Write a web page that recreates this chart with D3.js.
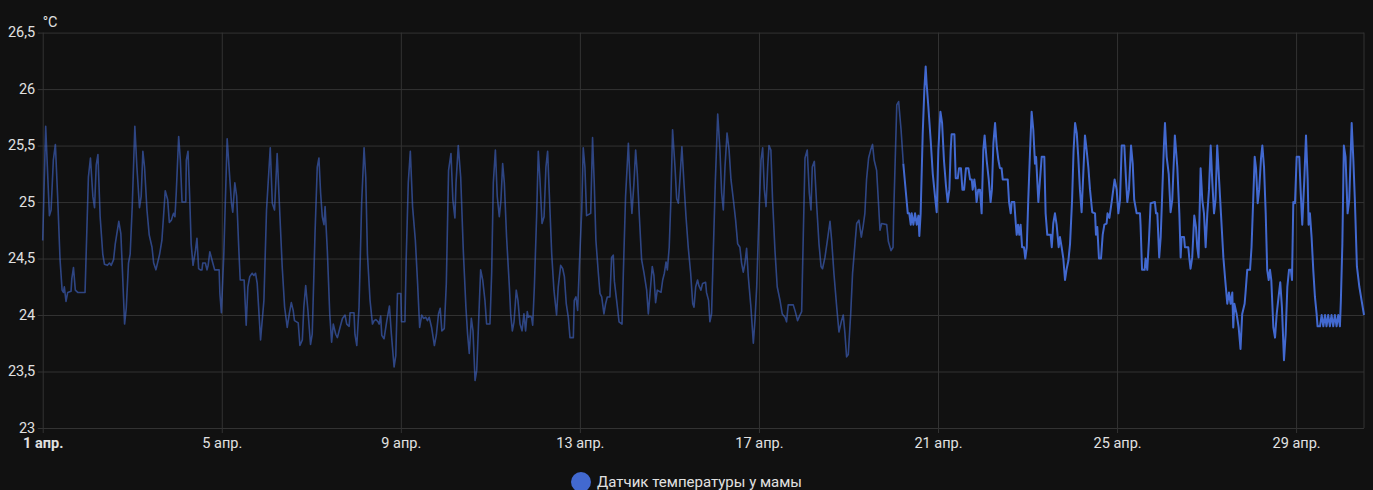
<!DOCTYPE html>
<html><head><meta charset="utf-8">
<script src="https://cdn.jsdelivr.net/npm/d3@7"></script>
<style>
html,body{margin:0;padding:0;background:#111111;}
svg{display:block;font-family:Roboto,"Noto Sans",sans-serif;}
</style></head>
<body><svg id="chart" width="1373" height="490"></svg>
<script>
// ---- data (hours since 1 Apr 00:00, temperature °C) ----
const seriesName = "Датчик температуры у мамы";
const unit = "°C";
const yTicks = [23, 23.5, 24, 24.5, 25, 25.5, 26, 26.5];
const xTickDays = [1, 5, 9, 13, 17, 21, 25, 29];
const xTickLabels = ["1 апр.", "5 апр.", "9 апр.", "13 апр.", "17 апр.", "21 апр.", "25 апр.", "29 апр."];
const endHour = 708.4;

const statHours = [0,1.6,3.6,4.5,5.7,6.8,8,9.3,10.4,11.1,11.6,12.5,13.4,15.2,15.6,16.5,17.5,18.8,22.7,24.5,25.6,26.9,27.8,28.7,29.6,30.8,32.2,33.1,34.7,35.8,36.7,38,38.9,40.8,41.9,42.8,43.9,44.8,46,46.9,48,49.4,50.5,51.9,52.8,53.7,54.6,55.9,57.1,58.6,59.5,60.7,62.7,63.9,65.7,67,67.9,69,69.7,70.2,70.9,71.6,72.9,73.8,74.7,76.7,77,77.9,78.8,79.6,80.6,81.9,82.7,83.6,84.5,85.4,85.8,87.2,88.1,88.7,89.6,91.2,92.2,94.6,95,95.8,97.1,98.9,99.9,101.2,101.9,103,104,105.1,105.9,108,109.1,110,111,112.3,113.2,114.1,115,116.8,118.6,120,122,123.1,124.3,125.7,127.2,128.4,129.7,131.1,132.2,133.3,134.3,135,137,137.9,139.2,140,141,142.2,143.6,144.5,146,147.2,148.1,149,149.9,150.8,151.4,152.6,153.9,154.9,155.8,157.1,158,159.4,160.7,162.1,163,164.3,164.8,166.9,167.4,168.4,169.6,171,172.3,173.2,174.1,175.5,176.8,177.7,178.6,179.8,180.4,181.2,181.8,183,184.5,185.9,186.9,188.4,189.3,190.2,192,192.4,194.2,194.9,196,197.1,198.3,199.8,201,202.1,203.2,204.2,205.4,206.3,207.2,208.5,210,211.1,212.2,213.1,214,215.3,216.4,217.6,218.9,219.9,221,221.6,222.8,224.1,225.5,226.9,227.8,228.7,229.8,230.7,231.8,232.7,233.6,234.8,235.9,237.1,238,239.8,240.7,241.6,242.7,243.7,244.8,245.7,246.6,247.5,248.7,250.2,250.9,251.8,252.7,253.9,254.8,255.9,257,258,258.9,259.8,260.4,261.2,262.1,262.7,263.6,264.8,265.7,266.6,267.7,268.8,269.8,270.7,271.6,272.9,274.1,275.5,276.4,277.7,278.8,279.7,280.7,281.8,282.7,284.5,285,285.9,286.8,287.7,289,289.8,290.7,291.6,293.8,294.8,295.7,296.6,297.9,298.8,299.7,300.9,301.8,302.7,304.1,305,305.9,306.5,307.7,309,310.6,311.3,312.5,314,314.9,315.9,317,317.9,318.8,319.9,321.1,322.4,323.8,324.7,325.6,326.8,327.7,328.6,329.5,331.5,332.4,333.3,334.2,334.9,335.9,336.8,337.7,339,339.9,340.8,341.7,342.7,343.8,344.9,346.1,347.4,348.5,349.2,350.1,351.1,351.8,352.9,353.8,355.4,355.9,357,357.7,358.6,359.5,360.6,361.9,363.1,364,364.9,365.8,366.9,368,369,370.3,371.5,372.6,373.8,374.7,375.6,376.5,377.4,378.3,379.7,381,381.9,382.8,384,385.1,386,386.9,387.8,388.7,389.4,390.4,391.3,392.6,393.8,395.3,396.5,398,398.8,399.7,402.4,403.5,404.7,406,406.9,407.8,408.7,409.9,411,411.9,412.6,413.7,414.9,416.2,417.3,418.1,419.4,420.7,422.1,423,424.2,425.7,426.9,428.3,429.2,430.1,431,431.9,433.2,434.2,435.5,436.4,437.6,438.9,439.9,440.8,441.7,442.8,443.9,444.9,445.8,447.1,448,448.9,449.8,452.5,453.4,454.8,455.9,456.2,457.9,458.9,460.2,461.4];
const statTemps = [24.66,25.67,24.88,24.93,25.37,25.51,25.05,24.49,24.22,24.2,24.25,24.12,24.2,24.21,24.32,24.42,24.22,24.2,24.2,25.22,25.39,25.05,24.95,25.33,25.42,24.87,24.54,24.45,24.44,24.46,24.44,24.49,24.63,24.83,24.72,24.37,23.92,24.06,24.46,24.54,24.96,25.67,25.31,24.95,25.05,25.45,25.31,24.93,24.71,24.6,24.46,24.4,24.54,24.66,25.1,25.02,24.82,24.84,24.88,24.9,24.87,25.08,25.58,25.37,25.0,25.0,25.37,25.45,25.05,24.63,24.44,24.57,24.68,24.41,24.4,24.4,24.46,24.46,24.4,24.44,24.56,24.46,24.4,24.4,24.19,24.02,24.54,25.56,25.31,24.99,24.91,25.17,25.05,24.6,24.31,24.31,23.91,24.25,24.34,24.37,24.35,24.37,24.28,23.78,24.13,24.93,25.48,24.99,24.93,25.43,24.87,24.43,24.07,23.89,24.01,24.11,24.04,23.95,23.93,23.73,23.78,24.07,24.26,24.04,23.74,23.83,24.72,25.31,25.39,25.08,24.87,24.8,24.96,24.57,24.01,23.76,23.92,23.83,23.8,23.89,23.97,24.0,23.92,23.9,24.02,24.02,23.83,23.73,24.07,24.99,25.48,25.22,24.54,24.13,23.92,23.95,23.96,23.94,23.92,23.99,23.82,23.79,23.95,24.08,23.84,23.54,23.64,24.19,24.19,23.94,23.94,24.51,25.17,25.45,24.96,24.66,24.28,23.89,24.0,23.97,23.98,23.95,23.98,23.89,23.73,23.83,24.01,24.06,23.86,23.88,24.28,25.28,25.43,25.02,24.86,25.17,25.5,25.22,24.57,24.07,23.83,23.66,23.97,23.86,23.42,23.51,23.89,24.4,24.31,24.13,23.92,23.92,24.37,25.17,25.46,25.05,24.87,25.02,25.34,25.17,24.69,24.25,24.01,23.86,23.94,24.22,24.13,23.92,23.86,24.01,23.86,24.03,23.98,23.99,23.98,23.91,24.25,24.87,25.45,25.2,24.81,24.87,25.31,25.45,25.08,24.54,24.22,24.0,24.25,24.44,24.41,24.34,24.1,23.98,23.8,23.8,24.13,24.16,24.04,24.43,24.93,25.48,25.31,24.88,24.9,25.57,25.17,24.66,24.37,24.19,24.16,24.01,24.1,24.16,24.16,24.51,24.53,24.3,24.13,23.94,23.92,24.37,25.05,25.52,25.17,24.9,25.17,25.46,25.25,24.87,24.49,24.37,24.22,24.01,24.19,24.43,24.35,24.11,24.22,24.2,24.31,24.37,24.47,24.4,24.6,25.02,25.64,25.31,25.03,24.99,25.22,25.49,25.17,24.87,24.6,24.37,24.1,24.07,24.25,24.31,24.26,24.22,24.28,24.29,24.2,24.13,23.94,24.01,24.54,25.17,25.78,25.46,25.08,24.93,25.31,25.61,25.46,25.2,25.02,24.84,24.63,24.6,24.46,24.38,24.46,24.59,24.34,24.07,23.75,23.96,24.25,24.87,25.37,25.48,25.11,24.96,25.31,25.5,25.46,25.02,24.57,24.25,24.13,24.01,23.98,23.94,24.09,24.09,24.03,23.95,24.0,24.03,24.72,25.39,25.46,25.08,24.93,25.31,25.36,24.99,24.63,24.43,24.41,24.51,24.66,24.83,24.66,24.37,24.07,23.85,23.95,24.0,23.84,23.63,23.65,24.01,24.37,24.63,24.81,24.84,24.69,24.79,24.9,25.2,25.39,25.46,25.51,25.37,25.28,25.02,24.75,24.81,24.8,24.65,24.57,24.6,24.87,25.86,25.89,25.64,25.34];

const histHours = [461.4,462.7,463.8,464.6,465.4,465.9,466.8,467.7,468.6,469.5,470,470.7,471.8,472.7,473.4,473.9,474.8,476.1,477.2,478.4,479.3,480.2,481.3,482.2,483.2,484.3,485.2,486.1,486.8,487.3,488.8,489.5,490.6,491.3,492.3,493.1,494,495,496.3,497.2,498.1,498.6,499.5,500.2,500.7,501.6,502.5,503.4,504.3,505,506.1,507.2,508.2,508.9,509.7,510.6,511.5,512.4,513.2,514.1,514.7,517.4,518.1,519,519.5,520.9,521.7,522.2,522.9,523.6,524.3,525.1,526.1,526.8,527.6,528.4,529.3,530.2,531.1,532,532.6,533.8,534.7,535.6,537,537.7,538.6,540.4,541,541.8,542.7,543.6,544.7,545.4,546.3,547.2,548.1,549,549.9,550.8,551.9,552.7,553.5,554.4,555.2,556.1,557,557.9,558.8,559.7,560.6,561.5,562.7,564.2,564.7,565.4,566.3,567.4,568.3,569.2,570.4,570.9,571.9,573.1,574.7,575.8,576.7,577.6,578.5,579.9,580.8,581.5,582.4,583.5,584.4,585.2,586.5,588.3,588.6,589.4,590.8,591.3,592.2,593.1,594,596.3,596.9,597.6,598.6,599.4,600.3,601.1,601.7,602.6,603.7,604.7,605.6,607,608.3,609.4,610.1,610.6,611.9,612.4,614.2,614.7,615.4,616.3,617.4,618.3,619,619.7,620.8,621.7,622.6,623.5,624.4,625.3,626.2,627.1,628,628.8,629.7,630.8,631.7,633,634,635.1,636,636.9,637.8,638.3,638.9,640.1,641.2,642.2,643.1,644.4,644.9,645.8,647.3,648.1,649,649.8,650.5,651.4,652.2,653.2,653.9,654.8,655.7,656.5,657.3,658,658.7,659.8,660.7,661.6,662.6,663.5,664.4,665.5,666.4,667.3,668.2,669.2,669.8,670.5,671.4,672.3,673.7,674.4,675.3,676.4,677.3,678.2,678.7,679.4,680.3,681.2,682.1,683,683.5,684.8,685.7,686.6,687.5,688.3,689.2,690.1,691,691.9,692.8,693.7,694.6,695.5,696,696.8,697.6,698.5,699.6,700.5,701.8,702.7,703.5,704.6,705.9,707.1,708.4];
const histTemps = [25.34,25.1,24.9,24.9,24.8,24.9,24.8,24.9,24.8,24.88,24.7,24.9,25.6,26.0,26.2,26.05,25.85,25.54,25.25,25.05,24.91,25.46,25.8,25.7,25.37,25.14,25.0,25.11,25.46,25.6,25.6,25.21,25.21,25.3,25.3,25.11,25.11,25.3,25.3,25.2,25.2,25.11,25.2,25.11,25.0,25.11,25.11,24.9,25.46,25.59,25.37,25.2,25.0,25.11,25.52,25.7,25.49,25.37,25.3,25.3,25.2,25.2,25.0,24.9,25.0,25.0,24.81,24.71,24.8,24.71,24.8,24.6,24.6,24.5,24.6,25.02,25.43,25.8,25.64,25.34,25.4,25.0,25.2,25.4,25.4,24.9,24.71,24.71,24.6,24.81,24.9,24.8,24.6,24.69,24.6,24.5,24.31,24.41,24.48,24.63,25.02,25.46,25.7,25.61,25.4,25.11,24.91,25.25,25.59,25.46,25.31,25.11,24.91,24.9,24.71,24.78,24.5,24.5,24.71,24.8,24.81,24.9,24.86,25.0,25.2,25.11,24.9,25.02,25.5,25.5,25.2,25.0,25.11,25.5,25.34,25.02,24.9,24.9,24.8,24.4,24.4,24.5,24.4,24.66,24.99,25.0,24.9,24.9,24.51,24.69,25.11,25.49,25.7,25.4,25.25,24.91,25.02,25.59,25.31,24.9,24.51,24.69,24.69,24.6,24.6,24.51,24.41,24.51,24.88,24.78,24.6,24.51,25.3,25.02,24.9,24.6,24.9,25.11,25.5,25.17,24.9,25.02,25.5,25.17,24.9,24.51,24.31,24.1,24.2,24.1,24.2,23.89,24.1,24.01,23.89,23.7,24.01,24.1,24.2,24.4,24.4,24.6,25.02,25.4,25.3,24.99,25.11,25.39,25.5,25.31,24.9,24.4,24.31,24.4,24.31,23.89,23.8,24.01,24.16,24.29,24.07,23.6,23.83,24.25,24.4,24.4,24.31,25.0,24.99,25.4,25.4,25.11,24.8,25.2,25.59,25.2,24.8,24.9,24.69,24.4,24.16,24.01,23.9,23.9,24.0,23.9,24.0,23.9,24.0,23.9,24.0,23.9,24.0,23.9,24.0,23.9,24.13,24.63,25.5,25.4,24.9,25.02,25.7,25.37,25.02,24.43,24.25,24.13,24.0];

// ---- layout ----
const W = 1373, H = 490;
const m = {left: 42.7, right: 1364, top: 32.6, bottom: 428};
const base = Date.UTC(2024, 3, 1);
const toDate = h => new Date(base + h * 3600e3);

const x = d3.scaleUtc().domain([toDate(0), toDate(endHour)]).range([m.left, m.right]);
const y = d3.scaleLinear().domain([23, 26.5]).range([m.bottom, m.top]);

const svg = d3.select("#chart");
svg.append("rect").attr("width", W).attr("height", H).attr("fill", "#111111");

const gridCol = "#333333";
const textCol = "#e1e1e1";
const axisFont = 14.5;
const fmtY = d => String(d).replace(".", ",");

// horizontal grid + y labels
const yAxis = d3.axisLeft(y).tickValues(yTicks).tickSize(m.right - m.left + 5).tickFormat(fmtY).tickPadding(2.5);
const gy = svg.append("g").attr("transform", `translate(${m.right},0)`).call(yAxis);
gy.select(".domain").remove();
gy.selectAll(".tick line").attr("stroke", gridCol).attr("stroke-width", 1);
gy.selectAll(".tick text").attr("fill", textCol).attr("font-size", axisFont).attr("font-family", "Roboto, sans-serif")
  .attr("dy", "0.3em");

// vertical grid + x labels
const xTickDates = xTickDays.map(d => toDate((d - 1) * 24));
const xAxis = d3.axisBottom(x).tickValues(xTickDates).tickSize(m.bottom - m.top + 5)
  .tickFormat((d, i) => xTickLabels[i]).tickPadding(5);
const gx = svg.append("g").attr("transform", `translate(0,${m.top})`).call(xAxis);
gx.select(".domain").remove();
gx.selectAll(".tick line").attr("stroke", gridCol).attr("stroke-width", 1);
gx.selectAll(".tick text").attr("fill", textCol).attr("font-size", axisFont).attr("font-family", "Roboto, sans-serif")
  .attr("font-weight", (d, i) => i === 0 ? "bold" : "normal");

// right border line
svg.append("line").attr("x1", m.right).attr("x2", m.right).attr("y1", m.top).attr("y2", m.bottom)
  .attr("stroke", gridCol).attr("stroke-width", 1);

// unit label
svg.append("text").attr("x", m.left).attr("y", 27.3).attr("fill", textCol).attr("font-size", axisFont)
  .attr("font-family", "Roboto, sans-serif").text(unit);

// lines
const color = "#4269d0";
const line = d3.line().x(d => x(toDate(d[0]))).y(d => y(d[1])).curve(d3.curveLinear);
const statData = statHours.map((h, i) => [h, statTemps[i]]);
const histData = histHours.map((h, i) => [h, histTemps[i]]);
svg.append("path").datum(statData).attr("d", line).attr("fill", "none")
  .attr("stroke", color).attr("stroke-opacity", 0.6).attr("stroke-width", 1.6).attr("stroke-linejoin", "round");
svg.append("path").datum(histData).attr("d", line).attr("fill", "none")
  .attr("stroke", color).attr("stroke-width", 2).attr("stroke-linejoin", "round");

// legend
const lg = svg.append("g");
lg.append("circle").attr("cx", 581).attr("cy", 482).attr("r", 10).attr("fill", color);
lg.append("text").attr("x", 597).attr("y", 487).attr("fill", textCol).attr("font-size", 15)
  .attr("font-family", "Roboto, sans-serif").text(seriesName);
</script></body></html>
